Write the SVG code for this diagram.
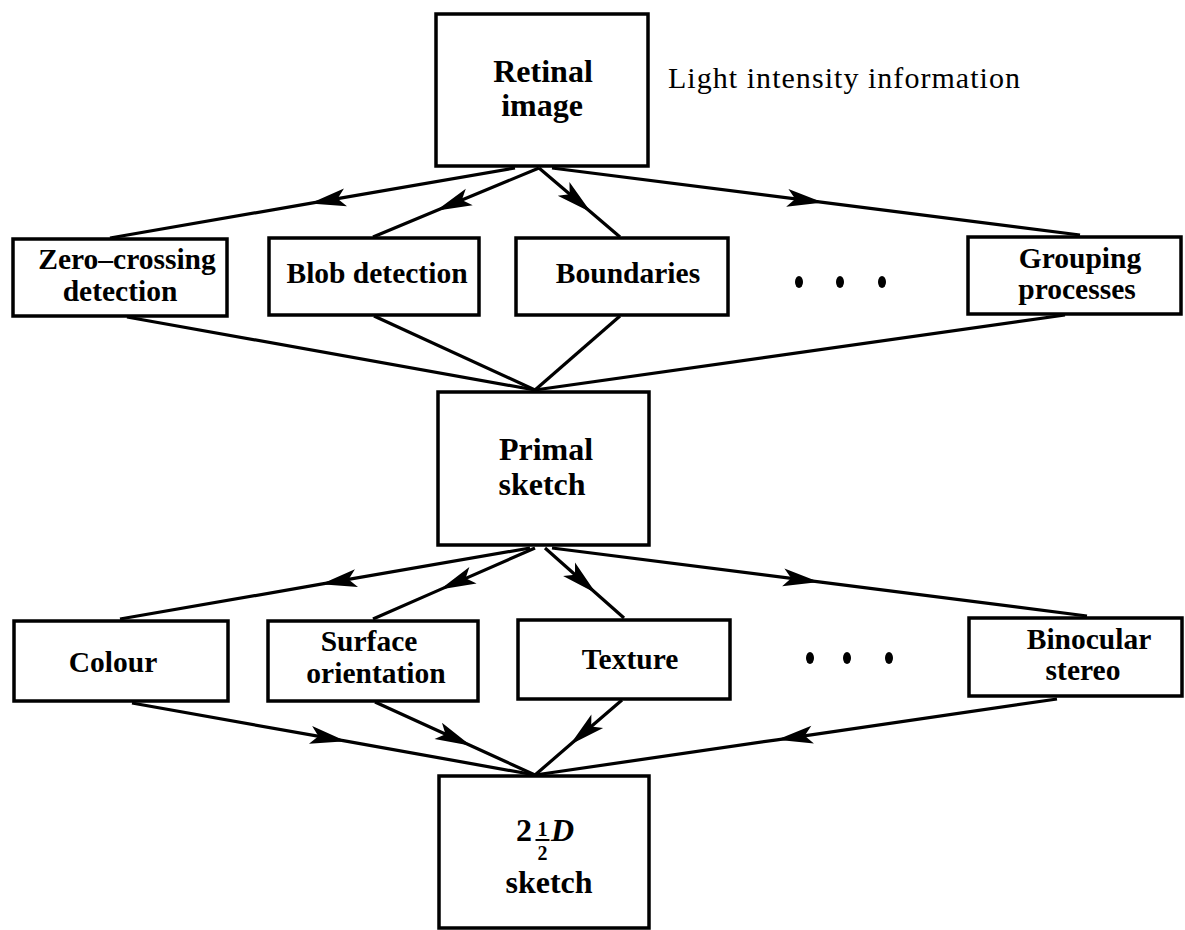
<svg xmlns="http://www.w3.org/2000/svg" width="1185" height="930" viewBox="0 0 1185 930">
<style>
.box{fill:#fff;stroke:#000;stroke-width:3.5}
.t{font-family:"Liberation Serif","Times New Roman",serif;font-weight:bold;fill:#000;text-anchor:middle}
.big{font-size:32px}
.sm{font-size:29.5px}
.con path{fill:none;stroke:#000;stroke-width:3.2}
.arr{marker-mid:url(#ah)}
.dot{fill:#000}
</style>
<defs>
<marker id="ah" markerUnits="userSpaceOnUse" markerWidth="44" markerHeight="24" viewBox="-40 -12 44 24" refX="0" refY="0" orient="auto" overflow="visible">
<path d="M0,0 L-36,-9 L-28,0 L-36,9 Z" fill="#000"/>
</marker>
</defs>
<rect width="1185" height="930" fill="#fff"/>
<g id="connectors" class="con">
<path class="arr" d="M515,168 L310,203.4 L110,238"/>
<path class="arr" d="M539,168 L436,210.8 L373,237"/>
<path class="arr" d="M539,168 L591,212.3 L620,237"/>
<path class="arr" d="M552,168 L823,202.4 L1080,235"/>
<path d="M127,317 L535,390"/>
<path d="M374,316 L535,390"/>
<path d="M620,316 L535,390"/>
<path d="M1065,315 L535,390"/>
<path class="arr" d="M530,548 L321,584.2 L120,619"/>
<path class="arr" d="M535,548 L440,589.6 L373,619"/>
<path class="arr" d="M545,548 L596,593.2 L624,618"/>
<path class="arr" d="M552,548 L819,581.9 L1087,616"/>
<path class="arr" d="M132,703 L346,741.2 L535,775"/>
<path class="arr" d="M375,702 L471,745.8 L535,775"/>
<path class="arr" d="M622,700 L570,744.8 L535,775"/>
<path class="arr" d="M1057,699 L777,739.8 L535,775"/>
</g>
<g id="retinal">
<rect class="box" x="436" y="14" width="212" height="152"/>
<text class="t big" x="543" y="82">Retinal</text>
<text class="t big" x="542" y="116">image</text>
</g>
<g id="light-label">
<text x="668" y="88" font-family="Liberation Serif, Times New Roman, serif" font-size="30" textLength="352" lengthAdjust="spacing" fill="#000">Light intensity information</text>
</g>
<g id="zero-crossing">
<rect class="box" x="13" y="239" width="214" height="77"/>
<text class="t sm" x="127" y="269">Zero–crossing</text>
<text class="t sm" x="120" y="301">detection</text>
</g>
<g id="blob">
<rect class="box" x="269" y="238" width="210" height="77"/>
<text class="t sm" x="377" y="283">Blob detection</text>
</g>
<g id="boundaries">
<rect class="box" x="516" y="238" width="212" height="77"/>
<text class="t sm" x="628" y="283">Boundaries</text>
</g>
<g id="dots-1">
<ellipse class="dot" cx="799" cy="282" rx="4" ry="6"/>
<ellipse class="dot" cx="840" cy="282" rx="4" ry="6"/>
<ellipse class="dot" cx="882" cy="282" rx="4" ry="6"/>
</g>
<g id="grouping">
<rect class="box" x="968" y="237" width="213" height="77"/>
<text class="t sm" x="1080" y="268">Grouping</text>
<text class="t sm" x="1077" y="299">processes</text>
</g>
<g id="primal">
<rect class="box" x="438" y="392" width="211" height="153"/>
<text class="t big" x="546" y="460">Primal</text>
<text class="t big" x="542" y="495">sketch</text>
</g>
<g id="colour">
<rect class="box" x="14" y="621" width="214" height="80"/>
<text class="t sm" x="113" y="672">Colour</text>
</g>
<g id="surface">
<rect class="box" x="268" y="621" width="210" height="80"/>
<text class="t sm" x="369" y="651">Surface</text>
<text class="t sm" x="376" y="683">orientation</text>
</g>
<g id="texture">
<rect class="box" x="518" y="620" width="212" height="79"/>
<text class="t sm" x="630" y="669">Texture</text>
</g>
<g id="dots-2">
<ellipse class="dot" cx="810" cy="658" rx="4" ry="6"/>
<ellipse class="dot" cx="847" cy="658" rx="4" ry="6"/>
<ellipse class="dot" cx="889" cy="658" rx="4" ry="6"/>
</g>
<g id="binocular">
<rect class="box" x="969" y="618" width="213" height="78"/>
<text class="t sm" x="1089" y="649">Binocular</text>
<text class="t sm" x="1083" y="680">stereo</text>
</g>
<g id="two-half-d">
<rect class="box" x="439" y="776" width="210" height="152"/>
<text class="t big" x="516" y="841" style="text-anchor:start">2</text>
<text class="t" x="542.5" y="836" font-size="20">1</text>
<line x1="535.5" y1="840" x2="549.5" y2="840" stroke="#000" stroke-width="2"/>
<text class="t" x="542.5" y="860" font-size="20">2</text>
<text class="t big" x="551" y="841" style="text-anchor:start;font-style:italic">D</text>
<text class="t big" x="549" y="893">sketch</text>
</g>
</svg>
